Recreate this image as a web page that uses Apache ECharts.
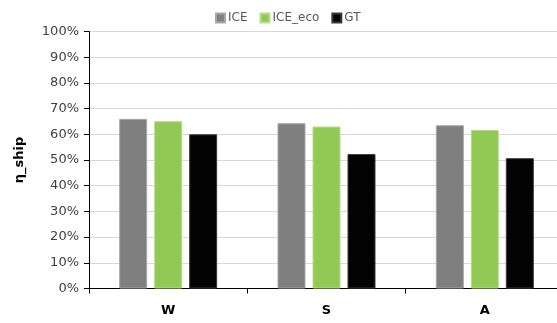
<!DOCTYPE html>
<html>
<head>
<meta charset="utf-8">
<script src="https://cdn.jsdelivr.net/npm/echarts@6/dist/echarts.min.js"></script>
<style>
  html, body { margin: 0; padding: 0; background: #fff; overflow: hidden; width: 557px; height: 323px; }
  /* the plot runs slightly past the right edge of the visible page */
  #chart { width: 565px; height: 323px; }
</style>
</head>
<body>
<div id="chart"></div>
<script>
// Ship efficiency by operating profile, per propulsion type
const categories = ['W', 'S', 'A'];
const seriesNames = ['ICE', 'ICE_eco', 'GT'];
const iceValues = [0.66, 0.643, 0.635];
const iceEcoValues = [0.651, 0.63, 0.617];
const gtValues = [0.60, 0.523, 0.507];
const yTicks = [0, 0.1, 0.2, 0.3, 0.4, 0.5, 0.6, 0.7, 0.8, 0.9, 1.0];

const colors = ['#7f7f7f', '#92c954', '#030303'];
const borders = ['#a6a6a6', '#b5dc8c', '#3a3a3a'];
const valueSets = [iceValues, iceEcoValues, gtValues];

const chart = echarts.init(document.getElementById('chart'));
chart.setOption({
  animation: false,
  textStyle: { fontFamily: 'DejaVu Sans' },
  grid: { left: 89, right: 1, top: 31.5, bottom: 34.5, containLabel: false },
  legend: {
    data: seriesNames,
    left: 210,
    top: 7,
    itemWidth: 9,
    itemHeight: 9,
    itemGap: 12,
    icon: 'rect',
    textStyle: { fontSize: 12, color: '#595959', padding: [0, 0, 0, -2] }
  },
  xAxis: {
    type: 'category',
    data: categories,
    axisLine: { lineStyle: { color: '#000', width: 1 } },
    axisTick: { show: true, length: 5, lineStyle: { color: '#000' } },
    axisLabel: { fontSize: 13, fontWeight: 'bold', color: '#000', margin: 16 }
  },
  yAxis: {
    type: 'value',
    min: yTicks[0],
    max: yTicks[yTicks.length - 1],
    interval: 0.1,
    name: 'η_ship',
    nameLocation: 'middle',
    nameGap: 63,
    nameTextStyle: { fontSize: 13, fontWeight: 'bold', color: '#000' },
    axisLine: { show: true, lineStyle: { color: '#000', width: 1 } },
    axisTick: { show: true, inside: false, length: 5, lineStyle: { color: '#000' } },
    axisLabel: {
      fontSize: 13,
      color: '#404040',
      margin: 10,
      formatter: v => Math.round(v * 100) + '%'
    },
    splitLine: { lineStyle: { color: '#d9d9d9', width: 1 } }
  },
  series: seriesNames.map((name, i) => ({
    name: name,
    type: 'bar',
    data: valueSets[i],
    barWidth: 28,
    barGap: '25%',
    itemStyle: { color: colors[i], borderColor: borders[i], borderWidth: 1 }
  }))
});
</script>
</body>
</html>
